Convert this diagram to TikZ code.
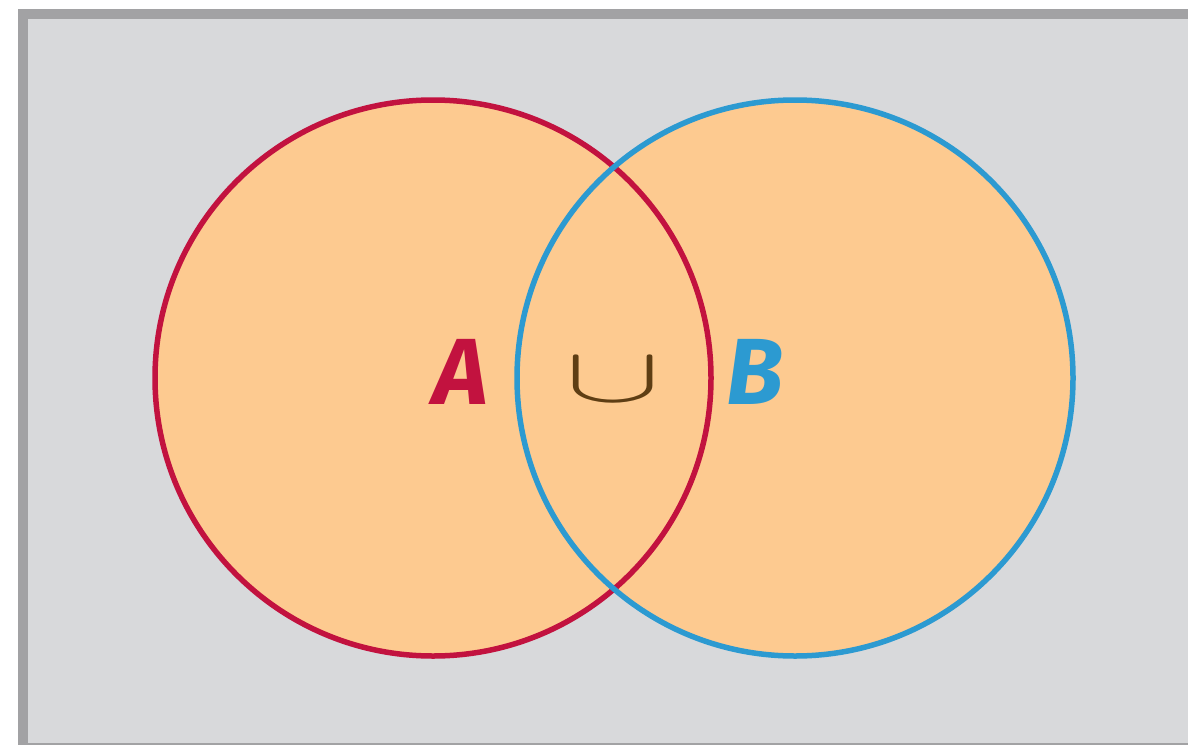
\documentclass[tikz,border=0pt]{standalone}
\usepackage{graphicx}
\usepackage{fontspec}
\setmainfont{Fira Sans}
\definecolor{bggray}{HTML}{D8D9DB}
\definecolor{framegray}{HTML}{A2A2A4}
\definecolor{setfill}{HTML}{FDCA90}
\definecolor{setred}{HTML}{C2123F}
\definecolor{setblue}{HTML}{2C9AD1}
\definecolor{cupbrown}{HTML}{5E3E14}
\tikzset{
  setcircle/.style={circle, minimum size=556pt, inner sep=0pt, line width=5.5pt},
  setlabel/.style={font=\fontsize{94}{94}\selectfont\bfseries\itshape, inner sep=0pt},
}
\begin{document}
\begin{tikzpicture}[x=1pt,y=-1pt]
\useasboundingbox (0,0) rectangle (1188,744);
\fill[white] (0,0) rectangle (1188,744);
\filldraw[fill=bggray, draw=framegray, line width=10pt] (23,14) rectangle (1200,748);
\node[setcircle, fill=setfill] (fa) at (433,378) {};
\node[setcircle, fill=setfill] (fb) at (795,378) {};
\node[setcircle, draw=setred] (A) at (433,378) {};
\node[setcircle, draw=setblue] (B) at (795,378) {};
\node[setlabel, text=setred] (la) at (461,372) {A};
\node[setlabel, text=setblue] (lb) at (755,372) {B};
\node[text=cupbrown, inner sep=0pt] (cup) at (613,380) {\scalebox{14.3}[7.8]{$\cup$}};
\end{tikzpicture}
\end{document}
